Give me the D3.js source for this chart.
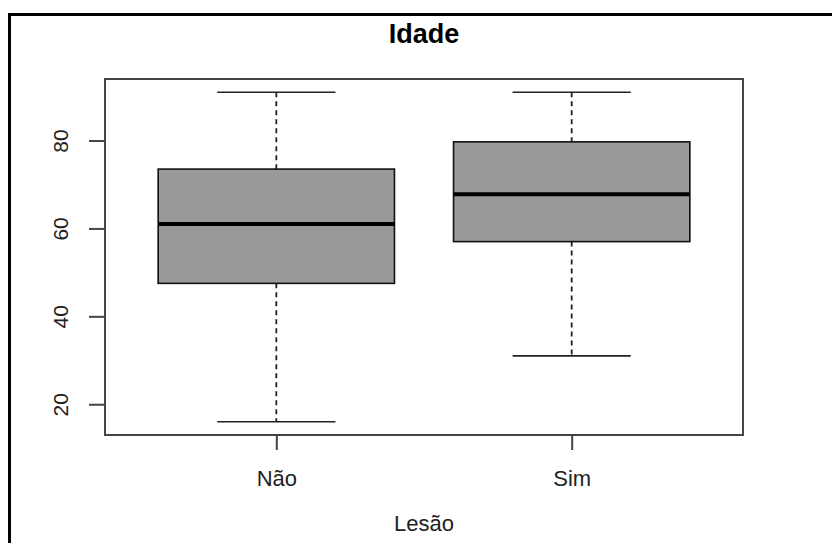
<!DOCTYPE html>
<html>
<head>
<meta charset="utf-8">
<script src="https://cdn.jsdelivr.net/npm/d3@7"></script>
<style>
  html, body { margin: 0; padding: 0; background: #fff; }
  svg { display: block; }
  text { font-family: "Liberation Sans", Arial, sans-serif; }
</style>
</head>
<body>
<svg id="chart" width="832" height="543"></svg>
<script>
// Age ("Idade") by injury status ("Lesão"): five-number summaries per group
const groups   = ["Não", "Sim"];
const whiskLo  = [16, 31];
const q1       = [47.5, 57];
const medians  = [61, 67.8];
const q3       = [73.5, 79.7];
const whiskHi  = [91, 91];
const yTicks   = [20, 40, 60, 80];

const title = "Idade";
const xTitle = "Lesão";

const svg = d3.select("#chart");
const W = 832, H = 543;

// outer frame
svg.append("rect")
  .attr("x", 9.5).attr("y", 14.5)
  .attr("width", W + 20).attr("height", H + 20)
  .attr("fill", "none").attr("stroke", "#000").attr("stroke-width", 3);

const plot = { left: 105, right: 743, top: 79, bottom: 435 };

// y domain: data range extended by 4% on each side
const lo = d3.min(whiskLo), hi = d3.max(whiskHi);
const pad = (hi - lo) * 0.04;
const y = d3.scaleLinear().domain([lo - pad, hi + pad]).range([plot.bottom, plot.top]);

// x: group positions 1..n in [0.5, n+0.5], extended by 4%
const n = groups.length;
const xpad = n * 0.04;
const x = d3.scaleLinear().domain([0.5 - xpad, n + 0.5 + xpad]).range([plot.left, plot.right]);

const boxHalf = 0.4, capHalf = 0.2;
const ink = "#222";

const g = svg.append("g");

groups.forEach((name, i) => {
  const c = i + 1;
  // whiskers (dashed)
  g.append("line")
    .attr("x1", x(c)).attr("x2", x(c))
    .attr("y1", y(whiskHi[i])).attr("y2", y(q3[i]))
    .attr("stroke", ink).attr("stroke-width", 1.8).attr("stroke-dasharray", "5,4");
  g.append("line")
    .attr("x1", x(c)).attr("x2", x(c))
    .attr("y1", y(q1[i])).attr("y2", y(whiskLo[i]))
    .attr("stroke", ink).attr("stroke-width", 1.8).attr("stroke-dasharray", "5,4");
  // caps
  [whiskHi[i], whiskLo[i]].forEach(v => {
    g.append("line")
      .attr("x1", x(c - capHalf)).attr("x2", x(c + capHalf))
      .attr("y1", y(v)).attr("y2", y(v))
      .attr("stroke", ink).attr("stroke-width", 1.6);
  });
  // box
  g.append("rect")
    .attr("x", x(c - boxHalf)).attr("width", x(c + boxHalf) - x(c - boxHalf))
    .attr("y", y(q3[i])).attr("height", y(q1[i]) - y(q3[i]))
    .attr("fill", "#999999").attr("stroke", "#111").attr("stroke-width", 1.6);
  // median
  g.append("line")
    .attr("x1", x(c - boxHalf)).attr("x2", x(c + boxHalf))
    .attr("y1", y(medians[i])).attr("y2", y(medians[i]))
    .attr("stroke", "#000").attr("stroke-width", 4);
});

// plot frame
svg.append("rect")
  .attr("x", plot.left).attr("y", plot.top)
  .attr("width", plot.right - plot.left).attr("height", plot.bottom - plot.top)
  .attr("fill", "none").attr("stroke", "#444").attr("stroke-width", 2);

// y axis
const yAxis = d3.axisLeft(y).tickValues(yTicks).tickSize(16).tickPadding(0).tickFormat(d3.format("d"));
const ya = svg.append("g").attr("transform", `translate(${plot.left},0)`).call(yAxis);
ya.select(".domain").remove();
ya.selectAll(".tick line").attr("stroke", "#444").attr("stroke-width", 2);
ya.selectAll(".tick text")
  .attr("x", 0).attr("dy", 0)
  .attr("transform", "translate(-37,0) rotate(-90)")
  .attr("text-anchor", "middle")
  .attr("fill", ink).attr("font-size", 21)
  .style("font-family", "Liberation Sans, Arial, sans-serif");

// x axis
const xAxis = d3.axisBottom(x).tickValues(groups.map((d, i) => i + 1)).tickSize(15).tickPadding(0)
  .tickFormat((d) => groups[d - 1]);
const xa = svg.append("g").attr("transform", `translate(0,${plot.bottom})`).call(xAxis);
xa.select(".domain").remove();
xa.selectAll(".tick line").attr("stroke", "#444").attr("stroke-width", 2);
xa.selectAll(".tick text")
  .attr("y", 51).attr("dy", 0)
  .attr("fill", ink).attr("font-size", 22)
  .style("font-family", "Liberation Sans, Arial, sans-serif");

// titles
svg.append("text")
  .attr("x", (plot.left + plot.right) / 2).attr("y", 43)
  .attr("text-anchor", "middle").attr("font-weight", "bold").attr("font-size", 27)
  .attr("fill", "#000").text(title);

svg.append("text")
  .attr("x", (plot.left + plot.right) / 2).attr("y", 531)
  .attr("text-anchor", "middle").attr("font-size", 22)
  .attr("fill", ink).text(xTitle);
</script>
</body>
</html>
